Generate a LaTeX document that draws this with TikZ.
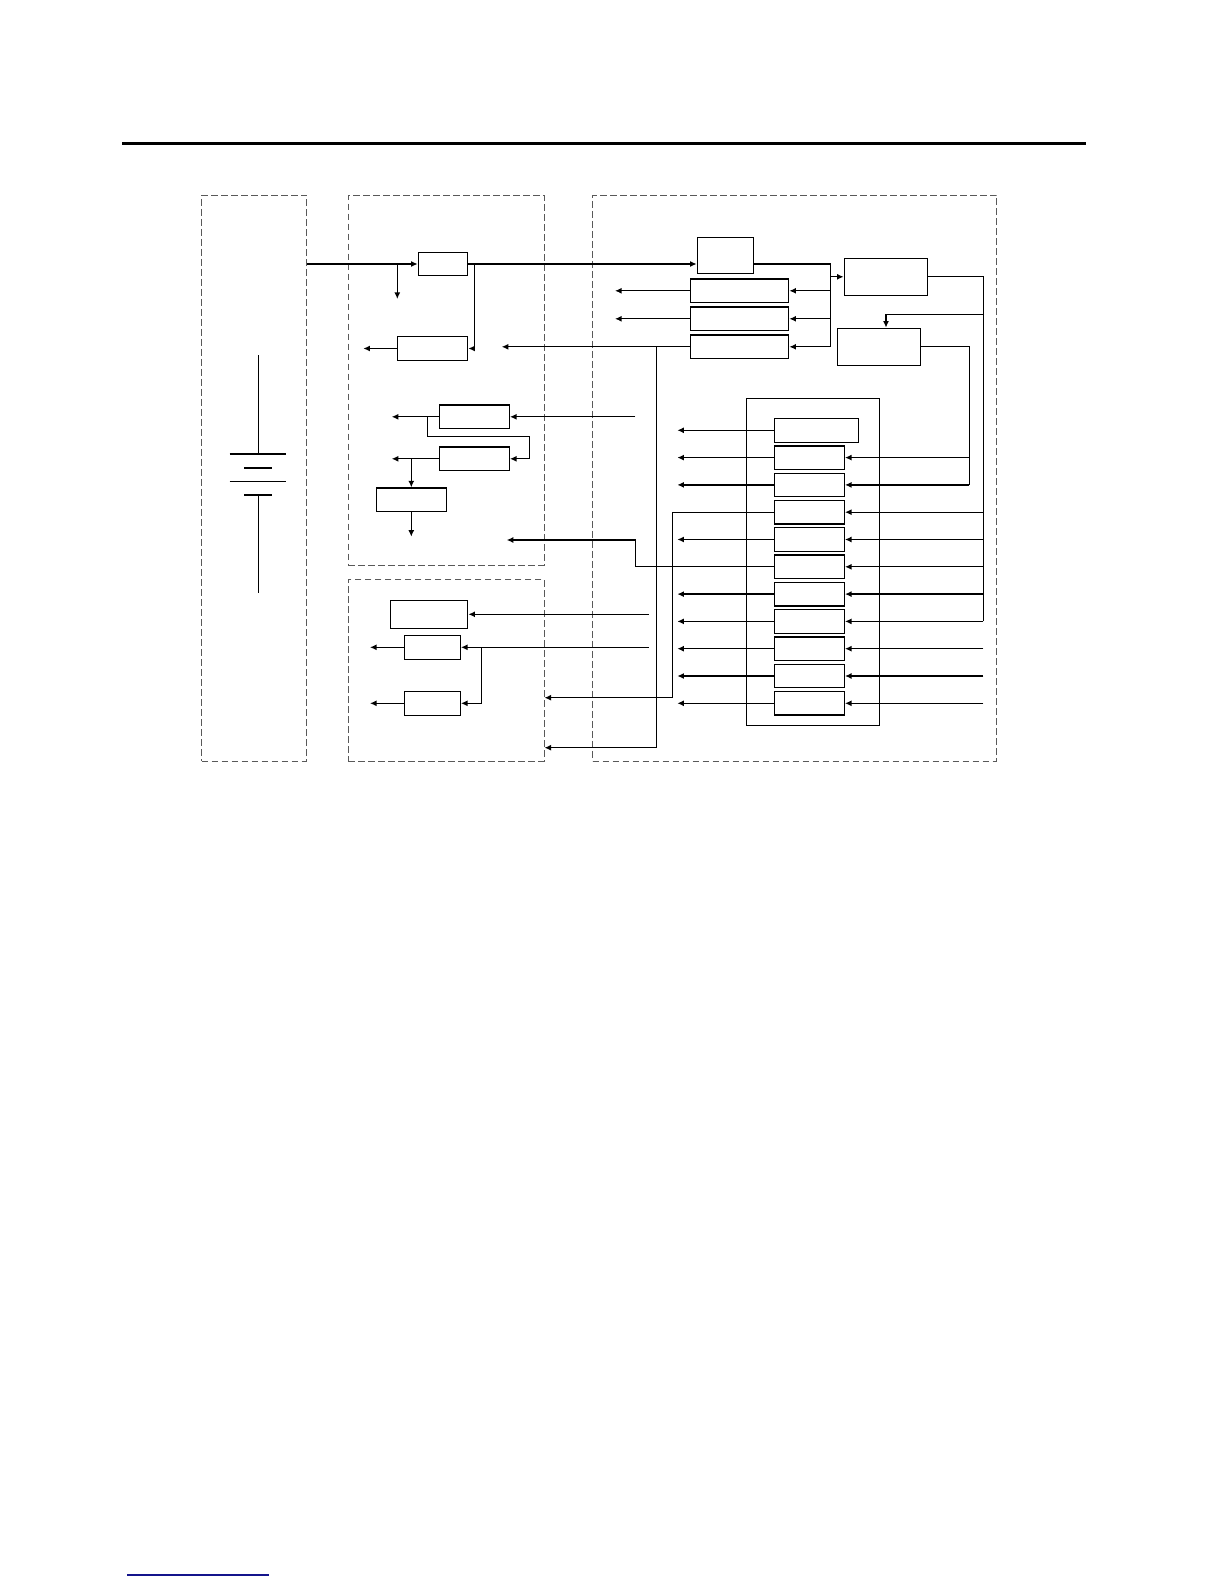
\documentclass[tikz,border=0pt]{standalone}
\usetikzlibrary{arrows.meta}
\definecolor{rulegray}{gray}{0.35}
\definecolor{linkblue}{RGB}{20,20,140}
\tikzset{
  wire/.style={line width=0.65pt},
  arrowline/.style={wire, -{Latex[length=3.3pt,width=3pt]}},
  blk/.style={draw, wire, inner sep=0pt, minimum height=11.75pt},
  kbox/.style={blk, minimum width=35pt},
  dashframe/.style={draw=rulegray, line width=0.5pt, dash pattern=on 3.3pt off 1.7pt, inner sep=0pt},
}
\begin{document}
\begin{tikzpicture}[x=0.5pt,y=-0.5pt]
    \useasboundingbox (0,0) rectangle (1224,1584);

    \draw[line width=1.1pt] (122,143.5) -- (1086,143.5);
    \draw[linkblue, line width=0.7pt] (127.3,1575) -- (269,1575);

    \node[dashframe, minimum width=52.5pt, minimum height=283pt] (pwrFrame) at (254.2,478) {};
    \node[dashframe, minimum width=97.85pt, minimum height=185pt] (ctlFrame) at (446.15,380) {};
    \node[dashframe, minimum width=97.85pt, minimum height=90.85pt] (drvFrame) at (446.15,670.15) {};
    \node[dashframe, minimum width=202pt, minimum height=283pt] (sigFrame) at (794.7,478) {};

    \draw[wire] (258.3,355) -- (258.3,454);
    \draw[wire] (229.7,454) -- (286,454);
    \draw[wire] (244,468) -- (272,468);
    \draw[wire] (229.7,481.3) -- (286,481.3);
    \draw[wire] (244,495) -- (272,495);
    \draw[wire] (258.3,495) -- (258.3,593.3);

    \node[blk, minimum width=24.7pt] (A) at (443,264) {};
    \node[blk, minimum width=35.2pt] (B) at (432.5,348.5) {};
    \node[blk, minimum width=35pt] (M1) at (474.3,416.8) {};
    \node[blk, minimum width=35pt] (M2) at (474.3,458.8) {};
    \node[blk, minimum width=35pt] (M3) at (411.3,499.8) {};
    \node[blk, minimum width=38.7pt, minimum height=14pt] (L1) at (429,614.3) {};
    \node[blk, minimum width=28pt, minimum height=12pt] (L2) at (432.3,647.3) {};
    \node[blk, minimum width=28pt, minimum height=12pt] (L3) at (432.3,703.3) {};

    \node[blk, minimum width=28pt, minimum height=18pt] (R1) at (725.3,255.3) {};
    \node[blk, minimum width=49.2pt] (R2) at (739.5,290.8) {};
    \node[blk, minimum width=49.2pt] (R3) at (739.5,318.8) {};
    \node[blk, minimum width=49.2pt] (R4) at (739.5,346.8) {};
    \node[blk, minimum width=41.7pt, minimum height=18.5pt] (S1) at (886,276.8) {};
    \node[blk, minimum width=41.5pt, minimum height=18.5pt] (S2) at (878.8,346.8) {};

    \node[draw, wire, inner sep=0pt, minimum width=66.5pt, minimum height=163.7pt] (kFrame) at (812.8,562) {};
    \node[blk, minimum width=42pt, minimum height=12pt] (k1) at (816.3,430.3) {};
    \foreach \i in {2,...,11}
        \node[kbox] (k\i) at (809.3,{430.3+27.3*(\i-1)}) {};

    \coordinate (tapA) at (397.3,264);
    \coordinate (tapAend) at (397.3,299);
    \coordinate (jB) at (474.3,0);
    \coordinate (outB) at (363.3,0);
    \coordinate (busR1) at (830.3,0);
    \coordinate (outR) at (615,0);
    \coordinate (tipR4) at (501.7,0);
    \coordinate (jR4) at (656.7,0);
    \coordinate (drvIn) at (0,747.7);
    \coordinate (busS) at (983.3,0);
    \coordinate (tapS2) at (886,314.3);
    \coordinate (busS2) at (969.3,0);
    \coordinate (outK) at (677.3,0);
    \coordinate (jK4) at (672.3,697.7);
    \coordinate (jK6) at (635.3,540);
    \coordinate (tipK6) at (506.7,0);
    \coordinate (srcM1) at (635.3,416.8);
    \coordinate (outM) at (391.7,0);
    \coordinate (jM1) at (427.3,0);
    \coordinate (loopM) at (529.3,436.7);
    \coordinate (endM3) at (0,536.7);
    \coordinate (srcL) at (648.7,0);
    \coordinate (jL2) at (481.7,0);
    \coordinate (outL) at (370,0);

    \draw[arrowline] (pwrFrame.east |- A.west) -- (A.west);
    \draw[arrowline] (tapA) -- (tapAend);
    \draw[arrowline] (A.east) -- (A.east -| R1.west);
    \draw[arrowline] (A.east -| jB) |- (B.east);
    \draw[arrowline] (B.west) -- (B.west -| outB);

    \draw[wire] (R1.east |- A.east) -| (busR1 |- R4.east);
    \draw[arrowline] (busR1 |- S1.west) -- (S1.west);
    \foreach \n in {R2,R3,R4}
        \draw[arrowline] (busR1 |- \n.east) -- (\n.east);
    \foreach \n in {R2,R3}
        \draw[arrowline] (\n.west) -- (\n.west -| outR);
    \draw[arrowline] (R4.west) -- (R4.west -| tipR4);
    \draw[arrowline] (R4.west -| jR4) |- (drvFrame.east |- drvIn);

    \draw[wire] (S1.east) -| (busS |- k8.east);
    \draw[arrowline] (busS |- tapS2) -- (tapS2) -- (tapS2 |- S2.north);
    \draw[wire] (S2.east) -| (busS2 |- k3.east);
    \foreach \i in {2,3}
        \draw[arrowline] (k\i.east -| busS2) -- (k\i.east);
    \foreach \i in {4,...,11}
        \draw[arrowline] (k\i.east -| busS) -- (k\i.east);
    \foreach \i in {1,2,3,5,7,8,9,10,11}
        \draw[arrowline] (k\i.west) -- (k\i.west -| outK);
    \draw[arrowline] (k4.west) -| (jK4) -- (jK4 -| drvFrame.east);
    \draw[arrowline] (k6.west) -| (jK6) -- (jK6 -| tipK6);

    \draw[arrowline] (srcM1) -- (M1.east);
    \draw[arrowline] (M1.west) -- (M1.west -| outM);
    \draw[arrowline] (M1.west -| jM1) |- (loopM) |- (M2.east);
    \draw[arrowline] (M2.west) -- (M2.west -| outM);
    \draw[arrowline] (M2.west -| M3.north) -- (M3.north);
    \draw[arrowline] (M3.south) -- (M3.south |- endM3);

    \draw[arrowline] (srcL |- L1.east) -- (L1.east);
    \draw[arrowline] (srcL |- L2.east) -- (L2.east);
    \draw[arrowline] (L2.east -| jL2) |- (L3.east);
    \foreach \n in {L2,L3}
        \draw[arrowline] (\n.west) -- (\n.west -| outL);
\end{tikzpicture}
\end{document}
